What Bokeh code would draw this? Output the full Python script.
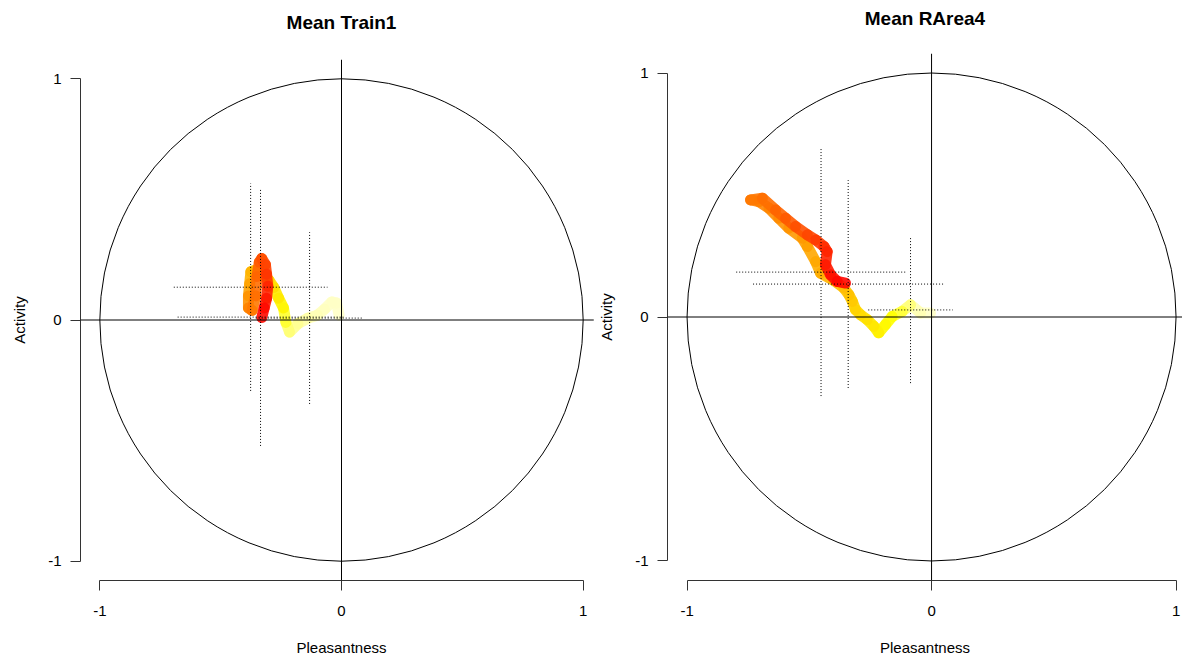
from bokeh.plotting import figure
from bokeh.layouts import row
from bokeh.models import FixedTicker, Span, ColumnDataSource, Range1d, LinearAxis
from bokeh.embed import file_html
from bokeh.resources import INLINE

# ---------------- data ----------------
titles = ["Mean Train1", "Mean RArea4"]
x_label = "Pleasantness"
y_label = "Activity"
tick_values = [-1, 0, 1]
tick_labels = ["-1", "0", "1"]

train_x = [-0.01, -0.02, -0.04, -0.07, -0.10, -0.14, -0.18, -0.215, -0.23, -0.24,
           -0.26, -0.28, -0.30, -0.33, -0.36, -0.375, -0.38, -0.385, -0.385, -0.37,
           -0.355, -0.35, -0.34, -0.33, -0.315, -0.31, -0.305, -0.31, -0.32, -0.33]
train_y = [0.02, 0.07, 0.075, 0.045, 0.02, 0.007, -0.015, -0.05, -0.01, 0.05,
           0.09, 0.135, 0.165, 0.19, 0.205, 0.20, 0.15, 0.10, 0.05, 0.04,
           0.10, 0.18, 0.24, 0.255, 0.23, 0.19, 0.14, 0.09, 0.05, 0.01]
train_t = [0.0, 0.025, 0.05, 0.075, 0.10, 0.125, 0.15, 0.175, 0.20, 0.26,
           0.30, 0.33, 0.36, 0.39, 0.42, 0.45, 0.50, 0.55, 0.60, 0.63,
           0.66, 0.69, 0.72, 0.75, 0.79, 0.83, 0.87, 0.91, 0.95, 1.0]
# Mean Train1 error crosses: centre and half-widths
train_cx = [-0.376, -0.335, -0.132]
train_cy = [0.136, 0.012, 0.008]
train_sx = [0.318, 0.343, 0.223]
train_sy = [0.430, 0.534, 0.356]

# Mean RArea4 trajectory
rarea_x = [-0.004, -0.045, -0.086, -0.12, -0.161, -0.188, -0.216, -0.236, -0.263, -0.29,
           -0.311, -0.324, -0.338, -0.359, -0.40, -0.454, -0.474, -0.508, -0.529, -0.584,
           -0.625, -0.665, -0.706, -0.74, -0.692, -0.638, -0.597, -0.556, -0.508, -0.474,
           -0.44, -0.427, -0.434, -0.413, -0.386, -0.352]
rarea_y = [0.016, 0.016, 0.05, 0.023, 0.002, -0.031, -0.065, -0.038, -0.011, 0.009,
           0.03, 0.064, 0.091, 0.119, 0.15, 0.18, 0.227, 0.289, 0.323, 0.364,
           0.405, 0.446, 0.473, 0.48, 0.487, 0.439, 0.405, 0.371, 0.337, 0.316,
           0.289, 0.268, 0.214, 0.173, 0.146, 0.139]
rarea_t = [0.0, 0.08, 0.16, 0.21, 0.24, 0.26, 0.28, 0.31, 0.33, 0.35,
           0.37, 0.40, 0.42, 0.44, 0.46, 0.48, 0.50, 0.52, 0.54, 0.56,
           0.58, 0.60, 0.62, 0.64, 0.66, 0.69, 0.72, 0.75, 0.78, 0.81,
           0.85, 0.88, 0.91, 0.94, 0.97, 1.0]
rarea_cx = [-0.452, -0.341, -0.086]
rarea_cy = [0.184, 0.135, 0.029]
rarea_sx = [0.347, 0.389, 0.173]
rarea_sy = [0.508, 0.426, 0.300]

FONT = "Liberation Sans"


def heat(t):
    # reversed R heat.colors: pale yellow -> yellow -> orange -> red
    if t < 0.25:
        b = int(round(200 * (1 - (t / 0.25) ** 3)))
        return "#%02x%02x%02x" % (255, 255, b)
    g = int(round(255 * (1 - t) / 0.75))
    return "#%02x%02x%02x" % (255, g, 0)


def panel(title, xs, ys, ts, cx, cy, sx, sy, width, b_left, x_end, b_top, frame_h, t_stand):
    p = figure(width=width, height=658, output_backend="svg", toolbar_location=None,
               x_range=Range1d(-1.08, x_end), y_range=Range1d(-1.08, 1.08),
               min_border_left=b_left, min_border_right=0,
               min_border_top=b_top, min_border_bottom=658 - b_top - frame_h)
    p.frame_align = False
    p.grid.visible = False
    p.outline_line_color = None
    p.background_fill_color = "white"
    p.border_fill_color = "white"

    bottom = p.below[0]
    left = p.left[0]
    for ax in (bottom, left):
        ax.ticker = FixedTicker(ticks=tick_values)
        ax.major_label_overrides = {v: l for v, l in zip(tick_values, tick_labels)}
        ax.bounds = (-1, 1)
        ax.axis_line_color = "#333333"
        ax.major_tick_line_color = "#333333"
        ax.major_tick_out = 10
        ax.major_tick_in = 0
        ax.minor_tick_line_color = None
        ax.major_label_text_font = FONT
        ax.major_label_text_font_size = "15px"
        ax.major_label_text_color = "black"
        ax.axis_label_text_font = FONT
        ax.axis_label_text_font_size = "15px"
        ax.axis_label_text_font_style = "normal"
        ax.axis_label_text_color = "black"
    bottom.axis_label = x_label
    left.axis_label = y_label
    bottom.major_label_standoff = 15
    bottom.axis_label_standoff = 20
    left.major_label_standoff = 9
    left.axis_label_standoff = 17

    # title as the label of an invisible top axis
    tax = LinearAxis(axis_label=title, ticker=FixedTicker(ticks=[]),
                     axis_line_color=None, major_tick_line_color=None,
                     minor_tick_line_color=None, major_tick_out=0, major_tick_in=0,
                     major_label_standoff=0, major_label_text_font_size="0px",
                     axis_label_standoff=t_stand, axis_label_text_font=FONT,
                     axis_label_text_font_size="19px", axis_label_text_font_style="bold",
                     axis_label_text_color="black")
    p.add_layout(tax, "above")

    # unit circle and cross lines
    p.ellipse(x=[0], y=[0], width=2, height=2, fill_color=None,
              line_color="black", line_width=1)
    p.add_layout(Span(location=0, dimension="width", line_color="black", line_width=1))
    p.add_layout(Span(location=0, dimension="height", line_color="black", line_width=1))

    # trajectory
    cols = [heat((ts[i] + ts[i + 1]) / 2) for i in range(len(xs) - 1)]
    src = ColumnDataSource(dict(x0=xs[:-1], y0=ys[:-1], x1=xs[1:], y1=ys[1:], c=cols))
    p.segment(x0="x0", y0="y0", x1="x1", y1="y1", source=src, line_color="c",
              line_width=11, line_cap="round", line_alpha=0.9)

    # error crosses
    esrc = ColumnDataSource(dict(
        hx0=[a - b for a, b in zip(cx, sx)], hx1=[a + b for a, b in zip(cx, sx)], hy=cy,
        vy0=[a - b for a, b in zip(cy, sy)], vy1=[a + b for a, b in zip(cy, sy)], vx=cx))
    p.segment(x0="hx0", y0="hy", x1="hx1", y1="hy", source=esrc,
              line_color="black", line_width=1, line_dash="1 2")
    p.segment(x0="vx", y0="vy0", x1="vx", y1="vy1", source=esrc,
              line_color="black", line_width=1, line_dash="1 2")
    return p


p1 = panel(titles[0], train_x, train_y, train_t, train_cx, train_cy, train_sx, train_sy,
           width=602, b_left=80, x_end=1.08, b_top=59, frame_h=522, t_stand=27)
p2 = panel(titles[1], rarea_x, rarea_y, rarea_t, rarea_cx, rarea_cy, rarea_sx, rarea_sy,
           width=589, b_left=74, x_end=-1.08 + 515 / 244.5, b_top=53, frame_h=528,
           t_stand=25)
p2.margin = (0, 0, 0, -9)

layout = row(p1, p2)
open("out.html", "w").write(file_html(layout, INLINE))
